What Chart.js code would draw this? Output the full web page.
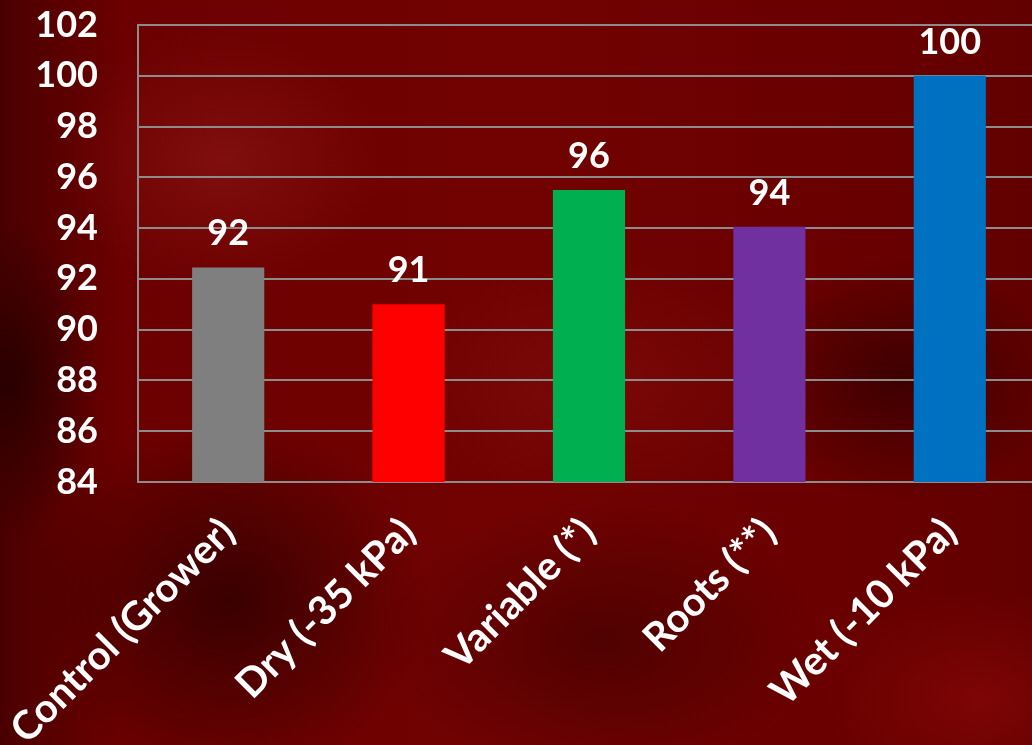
<!DOCTYPE html>
<html>
<head>
<meta charset="utf-8">
<script src="https://cdn.jsdelivr.net/npm/chart.js@4"></script>
<style>
  html, body { margin: 0; padding: 0; overflow: hidden; width: 1032px; height: 745px; }
  body {
    background:
      radial-gradient(ellipse 90px 160px at 10px 380px, rgba(30,0,0,0.75), rgba(30,0,0,0) 100%),
      radial-gradient(ellipse 200px 180px at 230px 600px, rgba(35,0,0,0.7), rgba(35,0,0,0) 100%),
      radial-gradient(ellipse 160px 120px at 900px 380px, rgba(35,0,0,0.6), rgba(35,0,0,0) 100%),
      radial-gradient(ellipse 220px 140px at 600px 640px, rgba(40,0,0,0.45), rgba(40,0,0,0) 100%),
      radial-gradient(ellipse 160px 130px at 220px 160px, rgba(150,30,30,0.45), rgba(150,30,30,0) 100%),
      radial-gradient(ellipse 200px 120px at 600px 380px, rgba(140,20,20,0.35), rgba(140,20,20,0) 100%),
      radial-gradient(ellipse 160px 110px at 980px 700px, rgba(150,10,10,0.5), rgba(150,10,10,0) 100%),
      linear-gradient(90deg, #4a0000 0%, #6c0000 12%, #720202 50%, #6a0000 80%, #620000 100%);
  }
  #wrap { position: absolute; left: 0; top: 0; width: 1040px; height: 745px; }
</style>
</head>
<body>
<div id="wrap"><canvas id="grafico" width="1040" height="745"></canvas></div>
<script>
const categorias = ['Control (Grower)', 'Dry (-35 kPa)', 'Variable (*)', 'Roots (**)', 'Wet (-10 kPa)'];
const valores = [92.45, 91, 95.5, 94.05, 100];
const etiquetas = ['92', '91', '96', '94', '100'];
const colores = ['#7f7f7f', '#ff0000', '#00b050', '#7030a0', '#0070c0'];
const ticksY = [84, 86, 88, 90, 92, 94, 96, 98, 100, 102];

const fuente = { family: 'Lato', size: 36, weight: 'bold' };

// numeros encima de cada barra
const etiquetasBarras = {
    id: 'etiquetasBarras',
    afterDatasetsDraw(chart) {
        const ctx = chart.ctx;
        const meta = chart.getDatasetMeta(0);
        ctx.save();
        ctx.fillStyle = '#ffffff';
        ctx.font = 'bold 36px Lato';
        ctx.textAlign = 'center';
        ctx.textBaseline = 'alphabetic';
        meta.data.forEach((bar, i) => {
            ctx.fillText(etiquetas[i], bar.x, bar.y - 22);
        });
        ctx.restore();
    }
};

const data = {
    labels: categorias,
    datasets: [
        {
            data: valores,
            backgroundColor: colores,
            borderWidth: 0,
            barPercentage: 0.4,
            categoryPercentage: 1.0
        }
    ]
};

const config = {
    type: 'bar',
    data: data,
    options: {
        responsive: false,
        animation: false,
        layout: { padding: { top: 25, right: 0, left: 0, bottom: 0 } },
        plugins: {
            legend: { display: false },
            tooltip: { enabled: false }
        },
        scales: {
            x: {
                grid: { display: false, drawTicks: false },
                border: { display: true, color: '#8c8c8c', width: 2 },
                ticks: {
                    color: '#ffffff',
                    font: { family: 'Lato', size: 40, weight: 'bold' },
                    minRotation: 45,
                    maxRotation: 45,
                    autoSkip: false,
                    padding: 27
                },
                afterFit(scale) {
                    scale.height = 263;
                    scale.paddingTop = 0;
                    scale.paddingLeft = 0;
                    scale.paddingRight = 0;
                }
            },
            y: {
                min: 84,
                max: 102,
                afterBuildTicks(scale) { scale.ticks = ticksY.map(v => ({ value: v })); },
                grid: { color: '#8c8c8c', lineWidth: 2, drawTicks: false },
                border: { display: true, color: '#8c8c8c', width: 2 },
                ticks: {
                    color: '#ffffff',
                    font: fuente,
                    padding: 40
                },
                afterFit(scale) {
                    scale.width = 138;
                    scale.paddingTop = 0;
                    scale.paddingBottom = 0;
                }
            }
        }
    },
    plugins: [etiquetasBarras]
};

const myChart = new Chart(document.getElementById('grafico'), config);
</script>
</body>
</html>
